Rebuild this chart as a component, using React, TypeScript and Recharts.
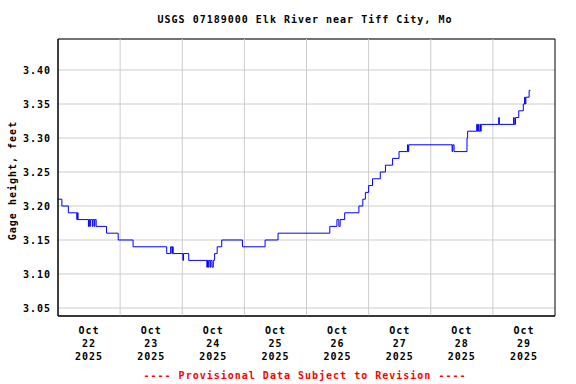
import { LineChart, Line, XAxis, YAxis, CartesianGrid, ReferenceLine, ReferenceArea } from "recharts";

// hours since Oct 22 2025 00:00 where the gage reading changes
const HOURS = [
  0, 1.5, 4, 7.25, 7.5, 7.75, 11.75, 12, 12.25, 12.5, 13.25, 13.5, 14, 14.25, 14.75,
  18.75, 23.25, 29, 42, 43.5, 44, 44.25, 44.5, 48.25, 48.5, 50.5,
  57.5, 57.75, 58, 58.25, 58.75, 59, 59.5, 60, 60.5, 61.5, 63.25, 71.25, 80, 85,
  105, 107.75, 108.5, 109, 110.75, 116.25, 117.75, 118.75, 120, 121.5, 124.5, 126.5,
  129.25, 131.75, 135, 135.25, 135.5, 152.25, 152.5, 153, 158, 158.25,
  161.75, 162, 162.25, 162.5, 163, 163.25, 163.5, 170.25, 170.5, 176, 176.25, 176.75,
  178, 179.75, 180.25, 180.5, 180.75, 182, 182.5,
];
const GAGE = [
  3.21, 3.2, 3.19, 3.18, 3.19, 3.18, 3.17, 3.18, 3.17, 3.18, 3.17, 3.18, 3.17, 3.18, 3.17,
  3.16, 3.15, 3.14, 3.13, 3.14, 3.13, 3.14, 3.13, 3.12, 3.13, 3.12,
  3.11, 3.12, 3.11, 3.12, 3.11, 3.12, 3.11, 3.12, 3.13, 3.14, 3.15, 3.14, 3.15, 3.16,
  3.17, 3.18, 3.17, 3.18, 3.19, 3.2, 3.21, 3.22, 3.23, 3.24, 3.25, 3.26,
  3.27, 3.28, 3.29, 3.28, 3.29, 3.28, 3.29, 3.28, 3.3, 3.31,
  3.32, 3.31, 3.32, 3.31, 3.32, 3.31, 3.32, 3.33, 3.32, 3.33, 3.32, 3.33,
  3.34, 3.35, 3.36, 3.35, 3.36, 3.37, 3.37,
];
const Y_TICKS = [3.05, 3.1, 3.15, 3.2, 3.25, 3.3, 3.35, 3.4];
const DAY_LABELS = ["22", "23", "24", "25", "26", "27", "28", "29"];
const NOON_TICKS = [12, 36, 60, 84, 108, 132, 156, 180];
const MIDNIGHTS = [24, 48, 72, 96, 120, 144, 168];

const data = HOURS.map((h, i) => ({ h, v: GAGE[i] }));

const FONT = "'DejaVu Sans Mono', monospace";
const X_MAX = 192;
const Y_MIN = 3.0382;
const Y_MAX = 3.4456;

const textStyle = {
  fontFamily: FONT,
  fontSize: 10,
  fontWeight: "bold" as const,
  letterSpacing: 1,
};

function DayTick({ x, y, payload, index }: any) {
  const i = NOON_TICKS.indexOf(payload.value);
  return (
    <text x={x} y={y} textAnchor="middle" fill="#000" style={textStyle}>
      <tspan x={x} dy={18}>Oct</tspan>
      <tspan x={x} dy={13}>{DAY_LABELS[i >= 0 ? i : index]}</tspan>
      <tspan x={x} dy={13}>2025</tspan>
    </text>
  );
}

function YTick({ x, y, payload }: any) {
  return (
    <text x={x} y={y} dy={4} textAnchor="end" fill="#000" style={textStyle}>
      {payload.value.toFixed(2)}
    </text>
  );
}

export default function App() {
  return (
    <div style={{ position: "absolute", left: 0, top: 0, width: 576, height: 384, background: "#fff" }}>
      <div
        style={{
          position: "absolute", left: 0, width: 610, top: 14, textAlign: "center",
          ...textStyle,
        }}
      >
        USGS 07189000 Elk River near Tiff City, Mo
      </div>
      <div style={{ position: "absolute", left: 12, top: 182, width: 0, height: 0 }}>
        <div
          style={{
            position: "absolute", left: -80, top: -7, width: 160, textAlign: "center",
            transform: "rotate(-90deg)", ...textStyle, whiteSpace: "nowrap",
          }}
        >
          Gage height, feet
        </div>
      </div>
      <div
        style={{
          position: "absolute", left: 0, width: 610, top: 370, textAlign: "center",
          color: "#ff0000", ...textStyle,
        }}
      >
        ---- Provisional Data Subject to Revision ----
      </div>
      <LineChart
        width={576}
        height={384}
        data={data}
        margin={{ top: 39, right: 21, bottom: 18, left: 8 }}
        style={{ position: "absolute", left: 0, top: 0 }}
      >
        <CartesianGrid vertical={false} stroke="#cccccc" />
        {MIDNIGHTS.map((m) => (
          <ReferenceLine key={m} x={m} stroke="#cccccc" />
        ))}
        <XAxis
          dataKey="h"
          type="number"
          domain={[0, X_MAX]}
          ticks={NOON_TICKS}
          allowDataOverflow
          height={50}
          tickLine={false}
          tickSize={0}
          tickMargin={0}
          axisLine={{ stroke: "#000" }}
          tick={<DayTick />}
          interval={0}
        />
        <YAxis
          type="number"
          domain={[Y_MIN, Y_MAX]}
          ticks={Y_TICKS}
          allowDataOverflow
          width={50}
          tickLine={false}
          tickSize={0}
          tickMargin={7}
          axisLine={{ stroke: "#000" }}
          tick={<YTick />}
          interval={0}
        />
        <ReferenceArea x1={0} x2={X_MAX} y1={Y_MIN} y2={Y_MAX} fill="none" stroke="#000" strokeOpacity={1} fillOpacity={0} />
        <Line
          type="stepAfter"
          dataKey="v"
          stroke="#0000ff"
          strokeWidth={1}
          dot={false}
          isAnimationActive={false}
        />
      </LineChart>
    </div>
  );
}
